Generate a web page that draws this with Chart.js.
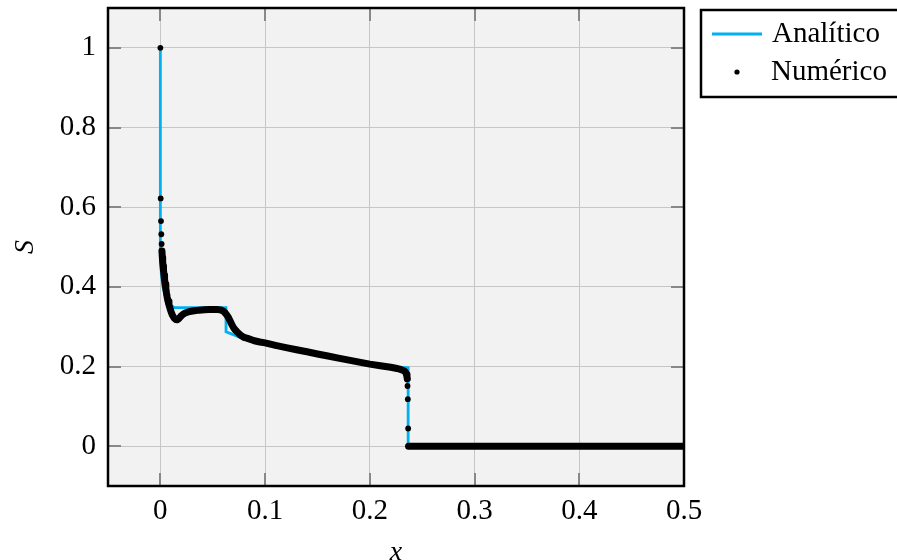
<!DOCTYPE html>
<html>
<head>
<meta charset="utf-8">
<script src="https://cdn.jsdelivr.net/npm/chart.js@4/dist/chart.umd.min.js"></script>
<style>
  body { margin: 0; background: #fff; }
  canvas { display: block; }
</style>
</head>
<body>
<canvas id="chart" width="897" height="560"></canvas>
<script>
// ticks
const xTicks = [0, 0.1, 0.2, 0.3, 0.4, 0.5];
const xTickLabels = ['0', '0.1', '0.2', '0.3', '0.4', '0.5'];
const yTicks = [0, 0.2, 0.4, 0.6, 0.8, 1];
const yTickLabels = ['0', '0.2', '0.4', '0.6', '0.8', '1'];

// solucion analitica
const anaX = [0, 0, 0.001, 0.0025, 0.0045, 0.007, 0.010, 0.0134, 0.0627, 0.0627, 0.0786,
    0.090, 0.100, 0.120, 0.140, 0.160, 0.180, 0.200, 0.220, 0.2366, 0.2366, 0.5];
const anaS = [1, 0.48, 0.43, 0.40, 0.378, 0.362, 0.353, 0.348, 0.348, 0.287, 0.2705,
    0.2642, 0.2590, 0.2472, 0.2367, 0.2262, 0.2158, 0.2058, 0.2000, 0.1965, 0, 0];

// solucion numerica
const numX = [0, 0.0003, 0.0006, 0.0009, 0.0012, 0.0015, 0.0019, 0.0022, 0.0026, 0.003,
    0.0035, 0.004, 0.0046, 0.0052, 0.0058, 0.0065, 0.0073, 0.0082, 0.0092, 0.0103,
    0.0115, 0.013, 0.0148, 0.016, 0.0175, 0.0197, 0.0222, 0.0245, 0.028, 0.0324,
    0.037, 0.042, 0.047, 0.0515, 0.055, 0.058, 0.060, 0.0617, 0.0635, 0.065,
    0.0665, 0.068, 0.070, 0.0716, 0.074, 0.0763, 0.080, 0.0833, 0.0897, 0.095,
    0.100, 0.110, 0.120, 0.130, 0.140, 0.150, 0.160, 0.170, 0.180, 0.190,
    0.200, 0.210, 0.220, 0.226, 0.230, 0.2328, 0.2342, 0.2350, 0.2355, 0.2358,
    0.236, 0.2363, 0.2366, 0.237, 0.3, 0.4, 0.5];
const numS = [1.0, 0.622, 0.565, 0.532, 0.5075, 0.490, 0.474, 0.463, 0.452, 0.441,
    0.430, 0.419, 0.407, 0.396, 0.385, 0.374, 0.364, 0.355, 0.346, 0.337,
    0.329, 0.322, 0.318, 0.3175, 0.320, 0.3266, 0.332, 0.335, 0.338, 0.340,
    0.3415, 0.3425, 0.343, 0.3432, 0.3428, 0.3417, 0.339, 0.335, 0.329, 0.323,
    0.315, 0.3065, 0.297, 0.2915, 0.285, 0.279, 0.273, 0.2705, 0.2646, 0.2615,
    0.2593, 0.253, 0.2475, 0.242, 0.237, 0.2315, 0.2265, 0.221, 0.216, 0.211,
    0.206, 0.202, 0.198, 0.195, 0.192, 0.189, 0.185, 0.180, 0.174, 0.169,
    0.151, 0.118, 0.0444, 0, 0, 0, 0];

const BLUE = '#00b0f0';
const FONT = '"Liberation Serif", "DejaVu Serif", serif';

function toPoints(xs, ys) {
    return xs.map((x, i) => ({ x: x, y: ys[i] }));
}

const framePlugin = {
    id: 'frame',
    beforeDraw(chart) {
        const { ctx, chartArea: a } = chart;
        ctx.save();
        ctx.fillStyle = '#f2f2f2';
        ctx.fillRect(a.left, a.top, a.right - a.left, a.bottom - a.top);
        ctx.restore();
    },
    beforeDatasetsDraw(chart) {
        // marcas hacia adentro, debajo de los datos
        const { ctx, chartArea: a } = chart;
        const xs = chart.scales.x;
        const ys = chart.scales.y;
        ctx.save();
        ctx.strokeStyle = '#888888';
        ctx.lineWidth = 2;
        ctx.beginPath();
        xTicks.forEach(v => {
            const px = Math.round(xs.getPixelForValue(v));
            ctx.moveTo(px, a.bottom); ctx.lineTo(px, a.bottom - 13);
            ctx.moveTo(px, a.top); ctx.lineTo(px, a.top + 13);
        });
        yTicks.forEach(v => {
            const py = Math.round(ys.getPixelForValue(v));
            ctx.moveTo(a.left, py); ctx.lineTo(a.left + 13, py);
            ctx.moveTo(a.right, py); ctx.lineTo(a.right - 13, py);
        });
        ctx.stroke();
        ctx.restore();
    },
    afterDraw(chart) {
        const { ctx, chartArea: a } = chart;
        ctx.save();
        // marco
        ctx.strokeStyle = '#000';
        ctx.lineWidth = 2.5;
        ctx.strokeRect(a.left, a.top, a.right - a.left, a.bottom - a.top);

        // titulos de ejes
        ctx.fillStyle = '#000';
        ctx.font = 'italic 28px ' + FONT;
        ctx.textAlign = 'center';
        ctx.textBaseline = 'alphabetic';
        ctx.fillText('x', (a.left + a.right) / 2, 560);
        ctx.save();
        ctx.translate(33, (a.top + a.bottom) / 2);
        ctx.rotate(-Math.PI / 2);
        ctx.fillText('S', 0, 0);
        ctx.restore();

        // leyenda
        ctx.lineWidth = 2.5;
        ctx.strokeStyle = '#000';
        ctx.strokeRect(701, 10, 220, 87);
        ctx.strokeStyle = BLUE;
        ctx.lineWidth = 2.8;
        ctx.beginPath();
        ctx.moveTo(712, 34); ctx.lineTo(762, 34);
        ctx.stroke();
        ctx.fillStyle = '#000';
        ctx.beginPath();
        ctx.arc(737, 72, 2.6, 0, Math.PI * 2);
        ctx.fill();
        ctx.font = '29px ' + FONT;
        ctx.textAlign = 'left';
        ctx.fillText('Analítico', 772, 42);
        ctx.fillText('Numérico', 771, 80);
        ctx.restore();
    }
};

new Chart(document.getElementById('chart'), {
    type: 'line',
    data: {
        datasets: [{
            label: 'Numérico',
            data: toPoints(numX, numS),
            borderColor: '#000',
            backgroundColor: '#000',
            borderWidth: 7,
            borderCapStyle: 'round',
            borderJoinStyle: 'round',
            pointRadius: 2.9,
            pointBorderWidth: 0,
            pointHoverRadius: 2.9,
            segment: {
                // los saltos grandes se ven como puntos sueltos
                borderColor: c => Math.abs(c.p1.y - c.p0.y) > 6.8 ? 'rgba(0,0,0,0)' : '#000'
            },
            order: 0
        }, {
            label: 'Analítico',
            data: toPoints(anaX, anaS),
            borderColor: BLUE,
            borderWidth: 2.8,
            pointRadius: 0,
            pointHoverRadius: 0,
            order: 1
        }]
    },
    options: {
        responsive: false,
        animation: false,
        devicePixelRatio: 1,
        events: [],
        layout: { padding: { left: 0, right: 213, top: 8, bottom: 0 } },
        plugins: { legend: { display: false }, tooltip: { enabled: false } },
        scales: {
            x: {
                type: 'linear',
                min: -0.05,
                max: 0.5,
                afterBuildTicks: s => { s.ticks = xTicks.map(v => ({ value: v })); },
                afterFit: s => { s.height = 74; s.paddingLeft = 0; s.paddingRight = 0; },
                grid: { color: '#c6c6c6', lineWidth: 1, drawTicks: false },
                border: { display: false },
                ticks: {
                    color: '#000',
                    font: { family: FONT, size: 29 },
                    padding: 8,
                    maxRotation: 0,
                    callback: (v, i) => xTickLabels[i]
                }
            },
            y: {
                type: 'linear',
                min: -0.1,
                max: 1.1,
                afterBuildTicks: s => { s.ticks = yTicks.map(v => ({ value: v })); },
                afterFit: s => { s.width = 108; s.paddingTop = 0; s.paddingBottom = 0; },
                grid: { color: '#c6c6c6', lineWidth: 1, drawTicks: false },
                border: { display: false },
                ticks: {
                    color: '#000',
                    font: { family: FONT, size: 29 },
                    padding: 12,
                    callback: (v, i) => yTickLabels[i]
                }
            }
        }
    },
    plugins: [framePlugin]
});
</script>
</body>
</html>
